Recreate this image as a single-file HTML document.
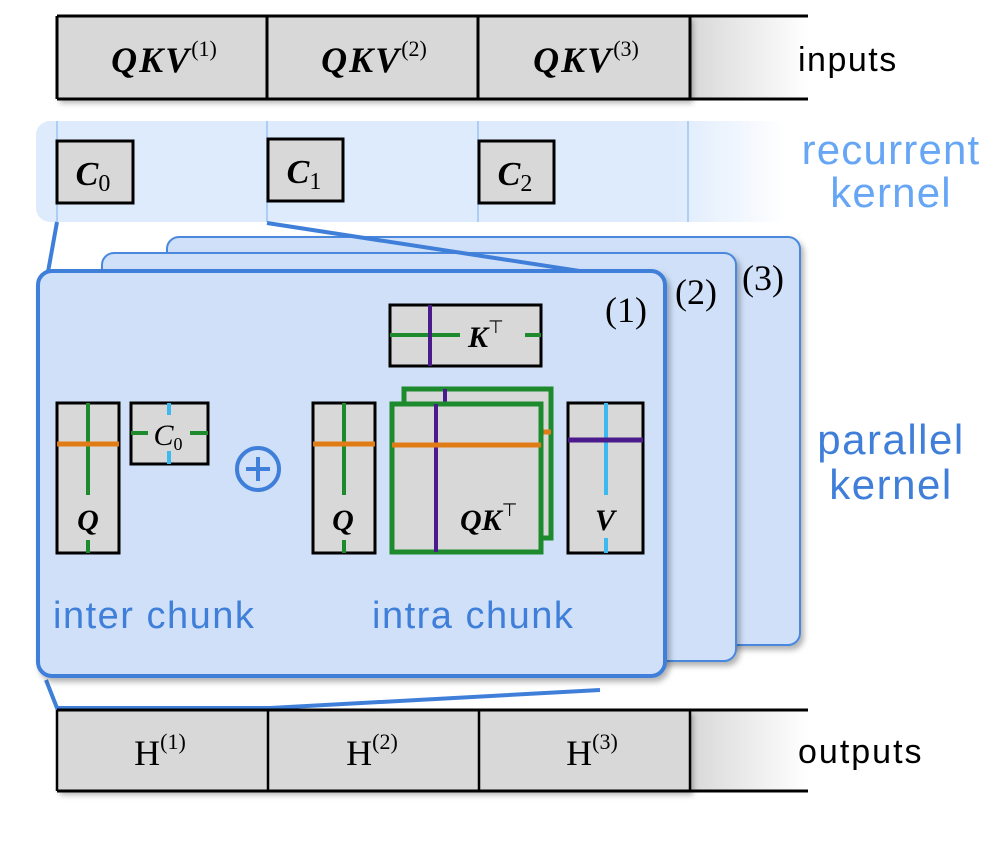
<!DOCTYPE html>
<html><head><meta charset="utf-8"><style>
body{margin:0;background:#fff}
svg{display:block}
.m{font-family:"Liberation Serif",serif;font-style:italic;font-weight:bold}
.r{font-family:"Liberation Serif",serif}
.s{font-family:"Liberation Sans",sans-serif}
</style></head><body>
<svg width="996" height="854" viewBox="0 0 996 854" xmlns="http://www.w3.org/2000/svg">
<defs>
<linearGradient id="fg" x1="0" x2="1"><stop offset="0" stop-color="#d8d8d8"/><stop offset="1" stop-color="#fff"/></linearGradient>
<linearGradient id="fb" x1="0" x2="1"><stop offset="0" stop-color="#deebfc"/><stop offset="0.85" stop-color="#deebfc"/><stop offset="1" stop-color="#deebfc" stop-opacity="0"/></linearGradient>
<filter id="sh" x="-5%" y="-5%" width="115%" height="120%"><feDropShadow dx="3" dy="4" stdDeviation="3" flood-color="#000" flood-opacity="0.3"/></filter>
</defs>

<!-- inputs bar -->
<rect x="690" y="16" width="118" height="83" fill="url(#fg)"/>
<g filter="url(#sh)">
<rect x="57" y="16" width="633" height="83" fill="#d8d8d8"/>
</g>
<line x1="57" y1="16" x2="808" y2="16" stroke="#000" stroke-width="3"/>
<line x1="57" y1="99" x2="808" y2="99" stroke="#000" stroke-width="3"/>
<g stroke="#000" stroke-width="3"><line x1="57" y1="16" x2="57" y2="99"/><line x1="267" y1="16" x2="267" y2="99"/><line x1="478" y1="16" x2="478" y2="99"/><line x1="690" y1="16" x2="690" y2="99"/></g>
<g class="m" font-size="36" text-anchor="middle" letter-spacing="2">
<text x="164" y="72">QKV<tspan font-size="22" font-style="normal" font-weight="normal" letter-spacing="0" dy="-16">(1)</tspan></text>
<text x="374" y="72">QKV<tspan font-size="22" font-style="normal" font-weight="normal" letter-spacing="0" dy="-16">(2)</tspan></text>
<text x="586" y="72">QKV<tspan font-size="22" font-style="normal" font-weight="normal" letter-spacing="0" dy="-16">(3)</tspan></text>
</g>
<text x="798" y="71" class="s" font-size="34" letter-spacing="1.5" fill="#000">inputs</text>

<!-- recurrent band -->
<rect x="36" y="121" width="750" height="101" rx="14" fill="url(#fb)"/>
<g stroke="#9cc3f5" stroke-width="1.5"><line x1="57" y1="121" x2="57" y2="222"/><line x1="267" y1="121" x2="267" y2="222"/><line x1="478" y1="121" x2="478" y2="222"/><line x1="688" y1="121" x2="688" y2="222"/></g>
<g fill="#d8d8d8" stroke="#000" stroke-width="3">
<rect x="57" y="141" width="76" height="62"/><rect x="268" y="139" width="75" height="62"/><rect x="479" y="141" width="75" height="62"/>
</g>
<g class="m" font-size="34" text-anchor="middle">
<text x="93" y="185">C<tspan font-size="24" font-style="normal" font-weight="normal" dy="6">0</tspan></text>
<text x="304" y="183">C<tspan font-size="24" font-style="normal" font-weight="normal" dy="6">1</tspan></text>
<text x="515" y="185">C<tspan font-size="24" font-style="normal" font-weight="normal" dy="6">2</tspan></text>
</g>
<text x="891" y="164" class="s" font-size="42" letter-spacing="1.2" fill="#66a6f5" text-anchor="middle">recurrent</text>
<text x="891" y="207" class="s" font-size="42" letter-spacing="1.2" fill="#66a6f5" text-anchor="middle">kernel</text>

<!-- bottom connector (behind) -->
<polyline points="46,680 57,708 270,708 600,690" fill="none" stroke="#3f7fd9" stroke-width="4"/>

<!-- cards -->
<rect x="167" y="237" width="633" height="408" rx="12" fill="#cfe0f8" stroke="#4a88dc" stroke-width="2" filter="url(#sh)"/>
<rect x="102" y="253" width="634" height="408" rx="12" fill="#cfe0f8" stroke="#4a88dc" stroke-width="2" filter="url(#sh)"/>
<!-- top connector -->
<polyline points="57,222 48,272" fill="none" stroke="#3f7fd9" stroke-width="4"/>
<polyline points="267,223 612,276" fill="none" stroke="#3f7fd9" stroke-width="4"/>
<rect x="38" y="271" width="627" height="405" rx="14" fill="#cfe0f8" stroke="#3f7fd9" stroke-width="4" filter="url(#sh)"/>
<g class="r" font-size="36" fill="#000">
<text x="605" y="322">(1)</text><text x="675" y="304">(2)</text><text x="742" y="290">(3)</text>
</g>

<!-- K^T -->
<rect x="390" y="305" width="151" height="61" fill="#d8d8d8" stroke="#000" stroke-width="3"/>
<line x1="390" y1="335" x2="460" y2="335" stroke="#1e8a2e" stroke-width="4"/>
<line x1="525" y1="335" x2="541" y2="335" stroke="#1e8a2e" stroke-width="4"/>
<line x1="430" y1="305" x2="430" y2="366" stroke="#4b1a8c" stroke-width="4"/>
<text x="468" y="347" class="m" font-size="30">K<tspan font-size="18" font-style="normal" font-weight="normal" dy="-14">⊤</tspan></text>

<!-- Q left -->
<rect x="57" y="403" width="62" height="150" fill="#d8d8d8" stroke="#000" stroke-width="3"/>
<line x1="88" y1="403" x2="88" y2="495" stroke="#1e8a2e" stroke-width="4"/>
<line x1="88" y1="540" x2="88" y2="553" stroke="#1e8a2e" stroke-width="4"/>
<line x1="57" y1="444" x2="119" y2="444" stroke="#e07b15" stroke-width="5"/>
<text x="88" y="530" class="m" font-size="30" text-anchor="middle">Q</text>
<!-- C0 small -->
<rect x="131" y="403" width="77" height="61" fill="#d8d8d8" stroke="#000" stroke-width="3"/>
<line x1="131" y1="433" x2="148" y2="433" stroke="#1e8a2e" stroke-width="4"/>
<line x1="190" y1="433" x2="208" y2="433" stroke="#1e8a2e" stroke-width="4"/>
<line x1="169" y1="403" x2="169" y2="415" stroke="#3cb9ee" stroke-width="4"/>
<line x1="169" y1="451" x2="169" y2="464" stroke="#3cb9ee" stroke-width="4"/>
<text x="168" y="445" class="r" font-style="italic" font-size="30" text-anchor="middle">C<tspan font-size="18" font-style="normal" dy="5">0</tspan></text>
<!-- plus -->
<circle cx="258" cy="469" r="21" fill="none" stroke="#3f7fd9" stroke-width="4"/>
<line x1="246" y1="469" x2="270" y2="469" stroke="#3f7fd9" stroke-width="4"/>
<line x1="258" y1="457" x2="258" y2="481" stroke="#3f7fd9" stroke-width="4"/>

<!-- Q right -->
<rect x="313" y="403" width="62" height="150" fill="#d8d8d8" stroke="#000" stroke-width="3"/>
<line x1="344" y1="403" x2="344" y2="495" stroke="#1e8a2e" stroke-width="4"/>
<line x1="344" y1="540" x2="344" y2="553" stroke="#1e8a2e" stroke-width="4"/>
<line x1="313" y1="444" x2="375" y2="444" stroke="#e07b15" stroke-width="5"/>
<text x="343" y="530" class="m" font-size="30" text-anchor="middle">Q</text>

<!-- QK^T stacked -->
<rect x="404" y="389" width="147" height="149" fill="#d8d8d8" stroke="#1e8a2e" stroke-width="5"/>
<line x1="445" y1="389" x2="445" y2="403" stroke="#4b1a8c" stroke-width="4"/>
<line x1="541" y1="432" x2="551" y2="432" stroke="#e07b15" stroke-width="5"/>
<rect x="392" y="404" width="149" height="148" fill="#d8d8d8" stroke="#1e8a2e" stroke-width="5"/>
<line x1="436" y1="404" x2="436" y2="552" stroke="#4b1a8c" stroke-width="4"/>
<line x1="392" y1="445" x2="541" y2="445" stroke="#e07b15" stroke-width="5"/>
<text x="460" y="530" class="m" font-size="30">QK<tspan font-size="18" font-style="normal" font-weight="normal" dy="-14">⊤</tspan></text>

<!-- V -->
<rect x="568" y="403" width="75" height="150" fill="#d8d8d8" stroke="#000" stroke-width="3"/>
<line x1="606" y1="403" x2="606" y2="495" stroke="#3cb9ee" stroke-width="4"/>
<line x1="606" y1="538" x2="606" y2="553" stroke="#3cb9ee" stroke-width="4"/>
<line x1="568" y1="440" x2="643" y2="440" stroke="#4b1a8c" stroke-width="5"/>
<text x="605" y="530" class="m" font-size="30" text-anchor="middle">V</text>

<text x="53" y="628" class="s" font-size="38" letter-spacing="1.5" fill="#3f7fd9">inter chunk</text>
<text x="372" y="628" class="s" font-size="38" letter-spacing="1.5" fill="#3f7fd9">intra chunk</text>

<text x="891" y="454" class="s" font-size="42" letter-spacing="1.5" fill="#3f7fd9" text-anchor="middle">parallel</text>
<text x="891" y="499" class="s" font-size="42" letter-spacing="1.5" fill="#3f7fd9" text-anchor="middle">kernel</text>

<!-- outputs bar -->
<rect x="690" y="710" width="118" height="81" fill="url(#fg)"/>
<g filter="url(#sh)"><rect x="57" y="710" width="633" height="81" fill="#d8d8d8"/></g>
<line x1="57" y1="710" x2="808" y2="710" stroke="#000" stroke-width="3"/>
<line x1="57" y1="791" x2="808" y2="791" stroke="#000" stroke-width="3"/>
<g stroke="#000" stroke-width="2.5"><line x1="57" y1="710" x2="57" y2="791"/><line x1="268" y1="710" x2="268" y2="791"/><line x1="479" y1="710" x2="479" y2="791"/><line x1="690" y1="710" x2="690" y2="791"/></g>
<g class="r" font-size="36" text-anchor="middle">
<text x="160" y="765">H<tspan font-size="22" dy="-16">(1)</tspan></text>
<text x="372" y="765">H<tspan font-size="22" dy="-16">(2)</tspan></text>
<text x="592" y="765">H<tspan font-size="22" dy="-16">(3)</tspan></text>
</g>
<text x="798" y="763" class="s" font-size="34" letter-spacing="2" fill="#000">outputs</text>
</svg>
</body></html>
